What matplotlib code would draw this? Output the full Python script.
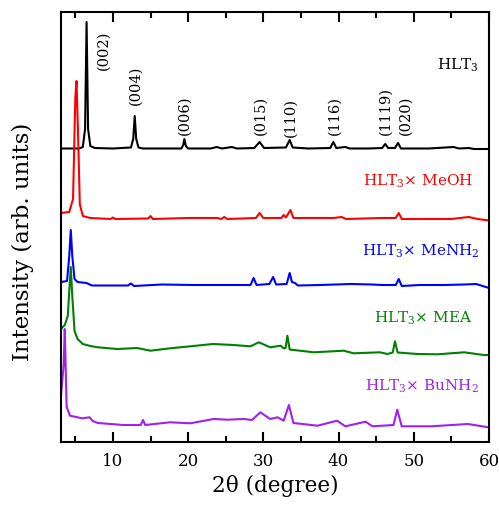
import numpy as np
import matplotlib
matplotlib.use("Agg")
import matplotlib.pyplot as plt
from matplotlib.ticker import MultipleLocator

plt.rcParams['font.family'] = ['DejaVu Serif']
plt.rcParams['mathtext.fontset'] = 'dejavuserif'

# XRD patterns, 2theta (deg) and intensity above each baseline (arb. units)
hlt_x = [3.1, 5.5, 6.0, 6.3, 6.5, 6.7, 7.0, 7.6, 10.0, 12.4, 12.7, 12.9, 13.1, 13.4, 14.0,
         19.1, 19.35, 19.5, 19.7, 20.0, 23.0, 23.8, 24.5, 25.8, 26.5, 28.8, 29.5, 30.1,
         33.0, 33.5, 33.9, 36.0, 38.9, 39.3, 39.7, 40.9, 41.5, 44.0, 45.8, 46.2, 46.6,
         47.5, 47.9, 48.3, 52.0, 55.3, 56.0, 57.3, 58.0, 60.0]
hlt_y = [0.5, 0.5, 2, 20, 127, 20, 3, 1, 0.5, 1.5, 10, 33, 10, 1.5, 0.5,
         0.5, 4, 10, 3, 0.5, 0.5, 2, 0.5, 2, 0.5, 1, 7, 1,
         1.5, 9, 1.5, 0.5, 1, 7, 1, 2, 0.5, 0.5, 1, 5, 1,
         1, 6, 0.5, 0.5, 2, 0.5, 1, 0, 0]

meoh_x = [3.1, 4.2, 4.7, 5.0, 5.16, 5.35, 5.6, 6.0, 7.0, 9.7, 10.0, 10.3, 14.7, 15.0, 15.3,
          20.0, 23.9, 24.4, 24.8, 25.2, 29.0, 29.5, 30.0, 32.4, 32.7, 33.0, 33.6, 34.0,
          39.3, 40.4, 41.0, 45.8, 47.6, 48.0, 48.4, 55.0, 57.3, 58.5, 60.0]
meoh_y = [6, 7, 20, 120, 138, 90, 15, 3, 1, 0, 1.5, 0, 0.5, 3, 0,
          1, 1, 0, 2, 0, 1, 6, 1, 1, 4, 1.5, 9, 1,
          1, 2, 0, 1, 1, 6, 0, 0, 2, 0, -1.5]

menh2_x = [3.1, 3.9, 4.2, 4.4, 4.6, 4.9, 5.3, 6.5, 7.2, 12.0, 12.4, 12.8, 16.5, 20.7,
           23.6, 24.7, 28.3, 28.7, 29.1, 30.8, 31.3, 31.7, 33.1, 33.5, 33.8, 34.2, 34.6,
           37.5, 39.6, 41.6, 44.5, 45.8, 47.6, 48.0, 48.4, 50.8, 54.1, 56.7, 58.3, 60.0]
menh2_y = [4, 5, 30, 56, 30, 7, 4, 3, 0.5, 0.5, 2.5, 0, 1.5, 1,
           1, 1, 1, 8, 1, 2, 9, 1.5, 2, 13, 4, 3, 0.5,
           1, 1.5, 2, 1.5, 1, 1, 7, 0, 1, 1, 1.5, 2, -2]

mea_x = [3.1, 3.6, 4.0, 4.2, 4.4, 4.6, 4.9, 5.3, 6.0, 7.0, 8.0, 10.6, 13.2, 15.0, 17.6,
         20.3, 23.3, 26.0, 28.3, 29.4, 30.9, 32.3, 32.7, 32.95, 33.2, 33.5, 36.7, 40.7,
         42.0, 45.5, 46.5, 47.2, 47.5, 47.85, 50.5, 53.2, 56.7, 59.3, 60.0]
mea_y = [22, 26, 35, 60, 84, 55, 20, 12, 7, 5, 3.7, 2, 3, 0.3, 2.7,
         4.7, 7, 6, 4.7, 8.7, 3.7, 5.3, 2.7, 3, 15.3, 1.5, -1.3, 0.3,
         -2.3, -1.3, -3, -1.5, 9.7, -1.5, -3, -3.3, -1.3, -4, -4]

bunh2_x = [3.1, 3.45, 3.6, 3.85, 4.3, 5.9, 6.9, 7.3, 8.0, 11.4, 13.7, 14.0, 14.3, 17.6,
           20.3, 23.4, 25.2, 27.4, 28.5, 29.6, 30.9, 31.9, 32.7, 33.4, 34.0, 37.2, 39.8,
           40.9, 43.6, 44.5, 47.3, 47.8, 48.4, 52.3, 57.2, 59.9, 60.0]
bunh2_y = [29, 60, 96, 18, 9.3, 6.7, 7.7, 4, 2, 0, 0, 5, 0, 2.7,
           1.7, 6, 5.3, 6, 5, 12.7, 6, 7.7, 4.3, 20, 2, -0.7, 4.3,
           -1.3, 3.3, -1.3, 0, 15.3, -1.3, -1.3, 1, -2.3, -2.3]

offsets = [293, 223, 156, 91, 17]
colors = ['black', '#ff0000', '#0000ff', '#008000', '#a020f0']
names = ['HLT$_3$', 'HLT$_3$× MeOH', 'HLT$_3$× MeNH$_2$', 'HLT$_3$× MEA', 'HLT$_3$× BuNH$_2$']
name_pos = [(53.1, 373), (43.3, 257), (43.1, 187), (44.7, 120), (43.5, 52)]

# Miller indices of the pristine HLT3 reflections
hkl = ['(002)', '(004)', '(006)', '(015)', '(110)', '(116)', '(1119)', '(020)']
hkl_pos = [(8.82, 373), (13.07, 338), (19.46, 308), (29.56, 308),
           (33.65, 306), (39.4, 308), (46.2, 308), (48.84, 308)]

fig = plt.figure(figsize=(4.99, 5.06), dpi=100)
ax = fig.add_axes([61 / 499, 63 / 506, 428 / 499, 430 / 506])

patterns = [(hlt_x, hlt_y), (meoh_x, meoh_y), (menh2_x, menh2_y), (mea_x, mea_y), (bunh2_x, bunh2_y)]
for (x, y), off, c, name, (tx, ty) in zip(patterns, offsets, colors, names, name_pos):
    ax.plot(x, np.array(y) + off, color=c, lw=1.5)
    ax.text(tx, ty, name, color=c, fontsize=11, ha='left', va='baseline')

for lab, (px, py) in zip(hkl, hkl_pos):
    ax.text(px, py, lab, rotation=90, fontsize=10.5, ha='center', va='bottom')

ax.set_xlim(3.1, 60)
ax.set_ylim(0, 430)
ax.set_yticks([])
ax.xaxis.set_major_locator(MultipleLocator(10))
ax.xaxis.set_minor_locator(MultipleLocator(5))
ax.tick_params(axis='x', which='major', direction='in', top=True, length=7, width=1.5,
               labelsize=12, pad=7)
ax.tick_params(axis='x', which='minor', direction='in', top=True, length=4, width=1.5)
for s in ax.spines.values():
    s.set_linewidth(1.5)

ax.set_xlabel('2θ (degree)', fontsize=15.5, labelpad=4)
ax.set_ylabel('Intensity (arb. units)', fontsize=16.5)
ax.yaxis.set_label_coords(-0.063, 0.467)

fig.savefig('out.png', dpi=100)
